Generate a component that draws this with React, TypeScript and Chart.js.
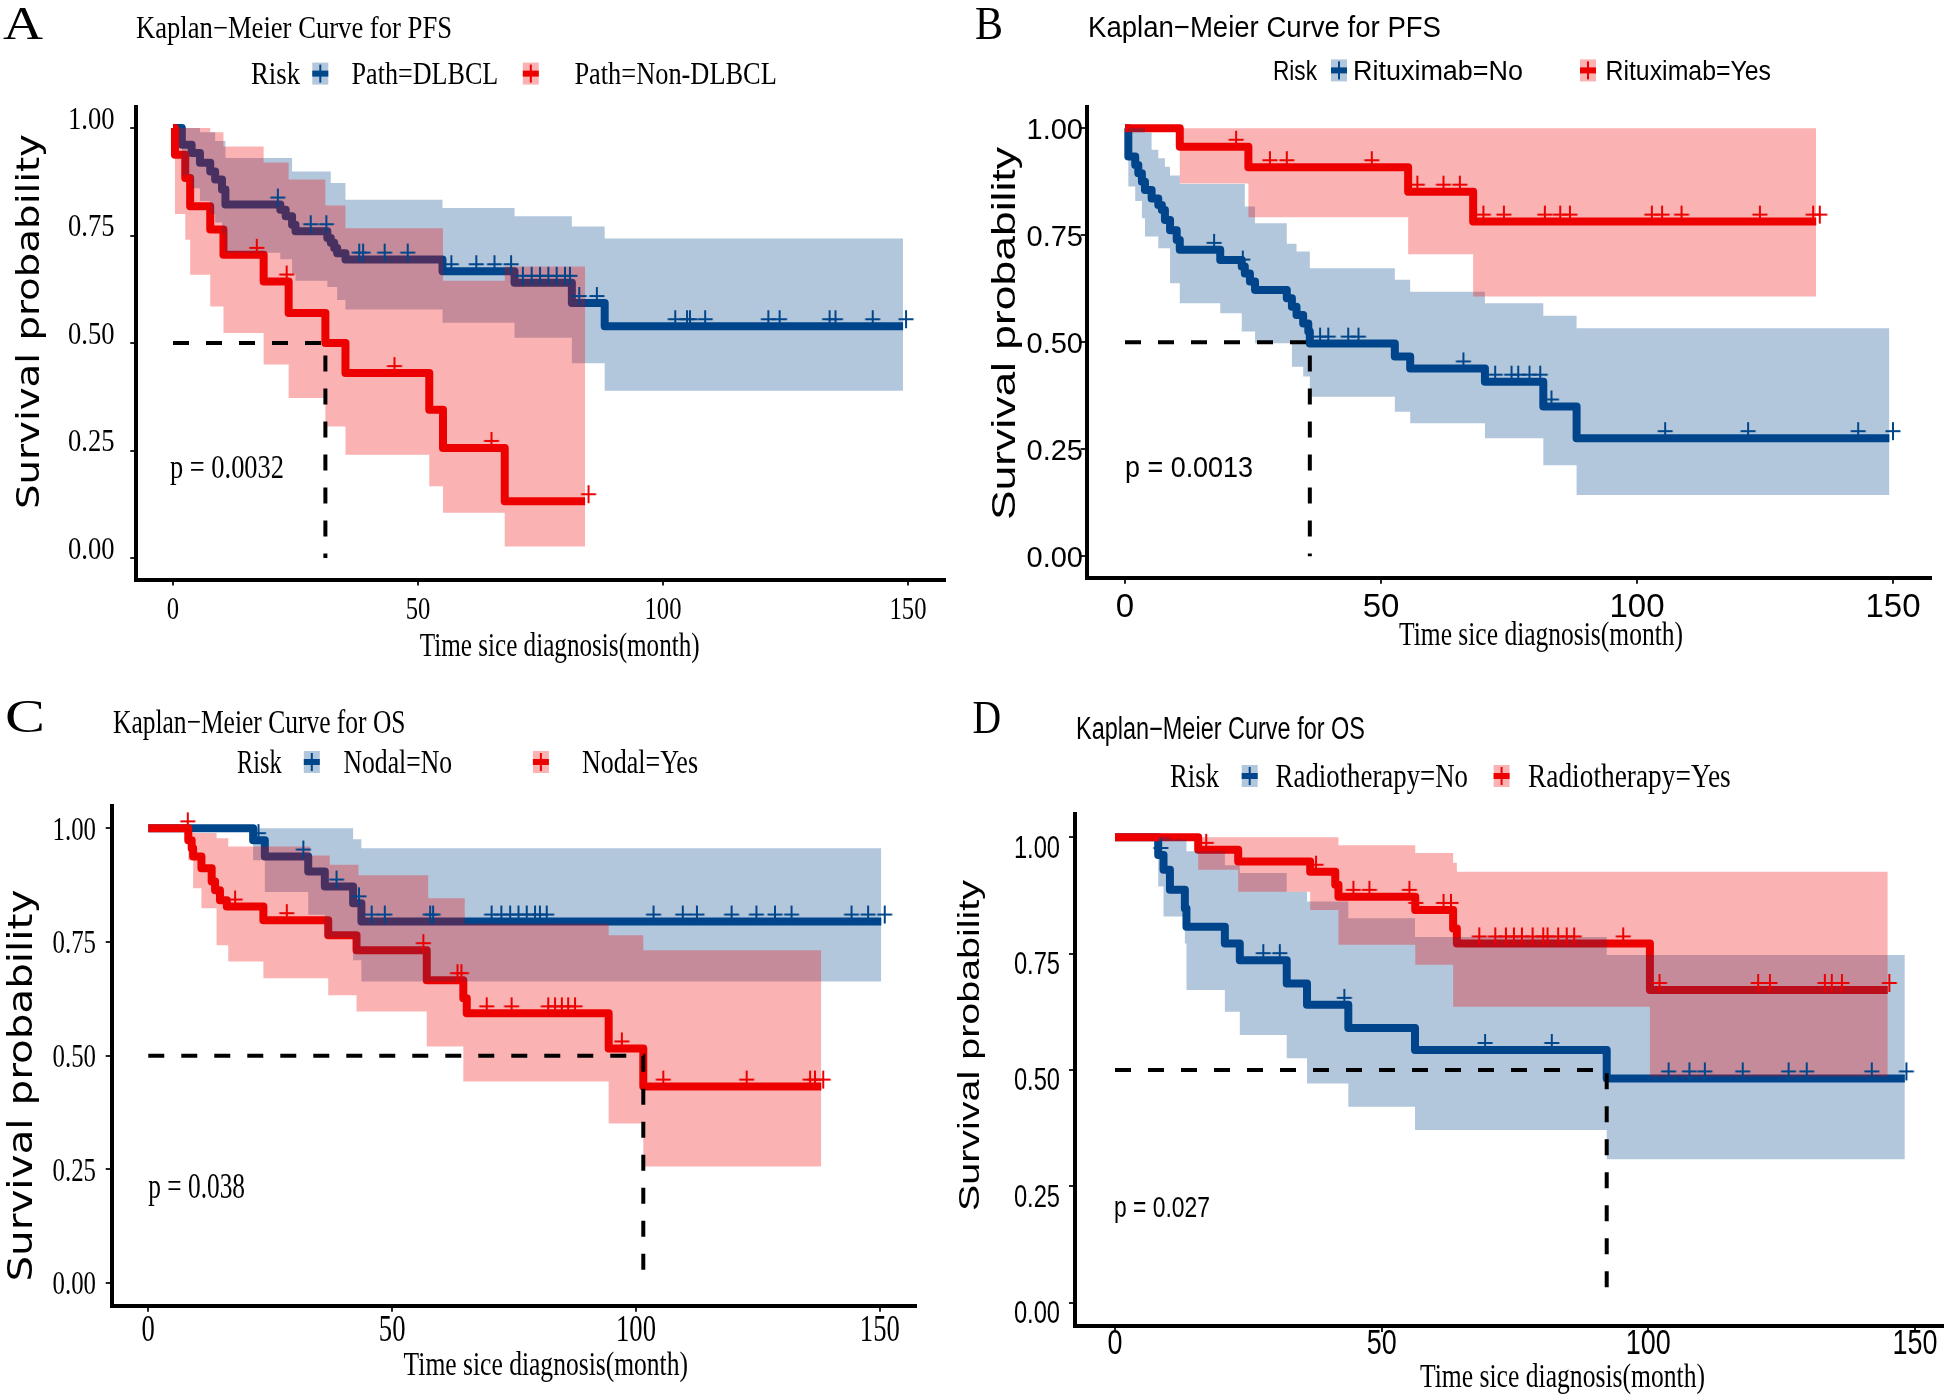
import React, { useEffect, useRef } from 'react';
import { Chart, registerables } from 'chart.js';

Chart.register(...registerables);

// ================= shared axis ticks =================
const X_TICKS = [0, 50, 100, 150];
const Y_TICKS = [0, 0.25, 0.5, 0.75, 1];
const X_TITLE = 'Time sice diagnosis(month)';
const Y_TITLE = 'Survival probability';
const LEGEND_TITLE = 'Risk';

// ================= Panel A : PFS by pathology =================
const A_TITLE = 'Kaplan\u2212Meier Curve for PFS';
const A_GROUPS = ['Path=DLBCL', 'Path=Non-DLBCL'];
const A_PVALUE = 'p = 0.0032';
const A_MEDIAN = 31.1;
const A_DLBCL_T = [0, 1.8, 3.8, 5.5, 7.6, 8.6, 10, 10.7, 21.9, 23, 24.3, 25, 31.5, 32.2, 32.9, 33.5, 35.2, 55, 69.7, 81.4, 88.1, 149];
const A_DLBCL_S = [1, 0.961, 0.942, 0.919, 0.899, 0.88, 0.857, 0.822, 0.81, 0.795, 0.775, 0.76, 0.744, 0.733, 0.721, 0.709, 0.694, 0.667, 0.64, 0.593, 0.539, 0.539];
const A_DLBCL_UP_T = [0, 5.5, 8.6, 10.7, 24.3, 32.2, 35.2, 55, 69.7, 81.4, 88.1, 149];
const A_DLBCL_UP_S = [1, 0.99, 0.97, 0.93, 0.899, 0.872, 0.833, 0.814, 0.795, 0.771, 0.743, 0.743];
const A_DLBCL_LO_T = [0, 1.8, 3.8, 5.5, 7.6, 8.6, 10, 10.7, 21.9, 24.3, 25, 31.5, 33.5, 35.2, 55, 69.7, 81.4, 88.1, 149];
const A_DLBCL_LO_S = [1, 0.89, 0.86, 0.83, 0.8, 0.78, 0.755, 0.71, 0.695, 0.66, 0.645, 0.63, 0.6, 0.578, 0.547, 0.512, 0.453, 0.389, 0.389];
const A_DLBCL_CENS = [21.4, 28.1, 31.3, 38, 38.8, 43.2, 47.9, 56.8, 61.9, 65.6, 69, 71.4, 73.2, 74.9, 76.6, 78.3, 80, 81, 82.9, 86.5, 102.5, 104.9, 105.5, 108.6, 121.5, 123.8, 134, 135.2, 142.8, 149.6];
const A_NON_T = [0, 0.4, 2.5, 3.5, 7.6, 10.3, 18.5, 23.6, 31.1, 35.2, 52.3, 55.1, 67.7, 84.1];
const A_NON_S = [1, 0.938, 0.884, 0.818, 0.764, 0.705, 0.643, 0.57, 0.5, 0.43, 0.345, 0.256, 0.132, 0.132];
const A_NON_UP_T = [0, 7.6, 10.3, 18.5, 23.6, 31.1, 35.2, 55.1, 67.7, 84.1];
const A_NON_UP_S = [1, 0.99, 0.957, 0.92, 0.88, 0.82, 0.767, 0.645, 0.678, 0.678];
const A_NON_LO_T = [0, 0.4, 2.5, 3.5, 7.6, 10.3, 18.5, 23.6, 31.1, 35.2, 52.3, 55.1, 67.7, 84.1];
const A_NON_LO_S = [1, 0.8, 0.74, 0.659, 0.585, 0.523, 0.45, 0.372, 0.306, 0.24, 0.167, 0.105, 0.027, 0.027];
const A_NON_CENS = [17.1, 23.2, 45.2, 65, 84.8];

// ================= Panel B : PFS by rituximab =================
const B_TITLE = 'Kaplan\u2212Meier Curve for PFS';
const B_GROUPS = ['Rituximab=No', 'Rituximab=Yes'];
const B_PVALUE = 'p = 0.0013';
const B_MEDIAN = 36.1;
const B_NO_T = [0, 0.65, 2, 2.6, 3.3, 3.9, 5.2, 6.5, 7.2, 7.8, 8.8, 10.1, 10.7, 18.6, 22.8, 23.4, 24.4, 25.4, 31.6, 32.6, 33.5, 34.8, 35.8, 36.1, 52.7, 55.7, 70.3, 81.7, 88.2, 149.3];
const B_NO_S = [1, 0.934, 0.914, 0.895, 0.875, 0.856, 0.836, 0.821, 0.809, 0.786, 0.762, 0.739, 0.716, 0.692, 0.677, 0.661, 0.642, 0.622, 0.603, 0.583, 0.564, 0.544, 0.525, 0.497, 0.467, 0.439, 0.408, 0.35, 0.276, 0.276];
const B_NO_UP_T = [0, 3.9, 5.2, 6.5, 7.8, 8.8, 10.7, 23.4, 25.4, 31.6, 33.5, 36.1, 52.7, 55.7, 70.3, 81.7, 88.2, 149.3];
const B_NO_UP_S = [1, 0.99, 0.95, 0.93, 0.91, 0.89, 0.87, 0.817, 0.778, 0.73, 0.712, 0.673, 0.646, 0.618, 0.591, 0.562, 0.533, 0.533];
const B_NO_LO_T = [0, 0.65, 2, 3.3, 3.9, 6.5, 8.8, 10.7, 18.6, 22.8, 25.4, 32.6, 34.8, 36.1, 52.7, 55.7, 70.3, 81.7, 88.2, 149.3];
const B_NO_LO_S = [1, 0.864, 0.83, 0.79, 0.747, 0.72, 0.638, 0.591, 0.568, 0.525, 0.498, 0.443, 0.42, 0.373, 0.338, 0.311, 0.276, 0.213, 0.143, 0.143];
const B_NO_CENS = [17.4, 23, 38.1, 39.7, 43.6, 45.6, 66.1, 72.3, 75.5, 76.8, 79, 81.1, 83.3, 105.5, 121.7, 143.2, 150];
const B_YES_T = [0, 10.7, 24.1, 55.3, 68, 135];
const B_YES_S = [1, 0.957, 0.909, 0.852, 0.782, 0.782];
const B_YES_UP_T = [0, 135];
const B_YES_UP_S = [1, 1];
const B_YES_LO_T = [0, 10.7, 24.1, 55.3, 68, 135];
const B_YES_LO_S = [1, 0.871, 0.792, 0.706, 0.607, 0.607];
const B_YES_CENS = [21.7, 28.3, 31.6, 48.2, 57.1, 62.2, 65.4, 70, 74, 82, 85, 86.9, 102.9, 104.9, 108.7, 124, 134.4, 135.7];

// ================= Panel C : OS by nodal =================
const C_TITLE = 'Kaplan\u2212Meier Curve for OS';
const C_GROUPS = ['Nodal=No', 'Nodal=Yes'];
const C_PVALUE = 'p = 0.038';
const C_MEDIAN = 101.5;
const C_NO_T = [0, 21.5, 23.9, 32.8, 36.2, 42, 43.7, 150.3];
const C_NO_S = [1, 0.974, 0.938, 0.905, 0.872, 0.835, 0.795, 0.795];
const C_NO_UP_T = [0, 42, 43.7, 150.3];
const C_NO_UP_S = [1, 0.976, 0.956, 0.956];
const C_NO_LO_T = [0, 21.5, 23.9, 32.8, 36.2, 42, 43.7, 150.3];
const C_NO_LO_S = [1, 0.93, 0.86, 0.81, 0.76, 0.71, 0.663, 0.663];
const C_NO_CENS = [22.6, 31.8, 38.6, 43.2, 45.8, 48.5, 57.8, 58.4, 70.4, 72.4, 74.2, 75.9, 77.6, 79.3, 80.3, 81.7, 103.6, 109.6, 112.5, 119.6, 124.7, 128.5, 131.9, 144.2, 147.6, 151];
const C_YES_T = [0, 8.2, 8.9, 9.2, 10.9, 13, 13.7, 14.7, 16.1, 23.6, 36.9, 42.7, 57.1, 64.6, 65.3, 94.4, 101.5, 138];
const C_YES_S = [1, 0.974, 0.956, 0.938, 0.912, 0.883, 0.864, 0.842, 0.828, 0.798, 0.765, 0.732, 0.666, 0.626, 0.593, 0.516, 0.432, 0.432];
const C_YES_UP_T = [0, 8.2, 14, 16.4, 33.2, 37.2, 43.1, 57.4, 64.9, 94.4, 101.5, 138];
const C_YES_UP_S = [1, 0.99, 0.978, 0.96, 0.94, 0.92, 0.897, 0.846, 0.79, 0.765, 0.732, 0.732];
const C_YES_LO_T = [0, 8.2, 9.2, 10.9, 14, 16.4, 23.6, 36.9, 42.7, 57.1, 64.6, 94.4, 101.5, 138];
const C_YES_LO_S = [1, 0.93, 0.868, 0.824, 0.743, 0.707, 0.67, 0.633, 0.597, 0.52, 0.443, 0.351, 0.256, 0.256];
const C_YES_CENS = [8.1, 17.8, 28.4, 56.4, 63.4, 64.2, 69.4, 74.5, 82, 83.4, 84.8, 86.1, 87.5, 97.1, 105.6, 122.7, 135.7, 136.7, 138.4];

// ================= Panel D : OS by radiotherapy =================
const D_TITLE = 'Kaplan\u2212Meier Curve for OS';
const D_GROUPS = ['Radiotherapy=No', 'Radiotherapy=Yes'];
const D_PVALUE = 'p = 0.027';
const D_MEDIAN = 92.2;
const D_NO_T = [0, 8.1, 9.1, 10.3, 13.1, 13.4, 20.6, 23.4, 32.2, 36, 43.75, 56.25, 92.2, 148.1];
const D_NO_S = [1, 0.962, 0.93, 0.887, 0.847, 0.808, 0.772, 0.736, 0.686, 0.64, 0.59, 0.543, 0.482, 0.482];
const D_NO_UP_T = [0, 10.3, 13.4, 20.6, 23.4, 32.2, 36, 43.75, 56.25, 92.2, 148.1];
const D_NO_UP_S = [1, 0.995, 0.97, 0.94, 0.923, 0.883, 0.862, 0.826, 0.786, 0.747, 0.747];
const D_NO_LO_T = [0, 8.1, 9.1, 13.1, 13.4, 20.6, 23.4, 32.2, 36, 43.75, 56.25, 92.2, 148.1];
const D_NO_LO_S = [1, 0.894, 0.83, 0.772, 0.672, 0.625, 0.575, 0.525, 0.471, 0.421, 0.371, 0.308, 0.308];
const D_NO_CENS = [8.6, 27.8, 30.9, 43, 69.4, 81.9, 103.8, 107.7, 110.6, 117.7, 126.3, 129.7, 141.9, 148.4];
const D_YES_T = [0, 15.6, 23.1, 36.6, 41.3, 41.9, 56.3, 63.4, 64.1, 100.3, 144.9];
const D_YES_S = [1, 0.973, 0.948, 0.926, 0.898, 0.872, 0.844, 0.804, 0.772, 0.672, 0.672];
const D_YES_UP_T = [0, 41.9, 56.3, 63.4, 64.1, 144.9];
const D_YES_UP_S = [1, 0.983, 0.966, 0.945, 0.926, 0.926];
const D_YES_LO_T = [0, 15.6, 23.1, 36.6, 41.9, 56.3, 63.4, 100.3, 144.9];
const D_YES_LO_S = [1, 0.93, 0.883, 0.844, 0.769, 0.726, 0.636, 0.486, 0.486];
const D_YES_CENS = [17.1, 37.7, 44.7, 47.7, 55.2, 56.4, 61.6, 63, 68.3, 71.3, 73.3, 74.8, 76.3, 78.3, 80.3, 81.1, 83.1, 84.7, 86.1, 95.3, 102.1, 120.6, 122.8, 133.1, 134.4, 136.3, 145.2];

// ================= styles =================
const BLUE = '#00468B';
const RED = '#ED0000';
const BLUE_BAND = 'rgba(0,70,139,0.3)';
const RED_BAND = 'rgba(237,0,0,0.3)';
const SERIF = '"Liberation Serif", "Times New Roman", serif';
const SANS = '"Liberation Sans", Arial, sans-serif';
const DEJAVU = '"DejaVu Sans", sans-serif';

type Series = { t: number[]; s: number[]; ut: number[]; us: number[]; lt: number[]; ls: number[]; cens: number[] };
type TextItem = { text: string; x: number; y: number; size: number; family: string; width?: number; sx?: number; align?: CanvasTextAlign; baseline?: CanvasTextBaseline; rotate?: number };
type TickStyle = { family: string; size: number; sx: number; cap: number; gap?: number; off?: number; base?: number };
type Panel = {
  id: string;
  canvas: { x: number; y: number; w: number; h: number };
  area: { l: number; t: number; r: number; b: number };
  xMax: number;
  blue: Series;
  red: Series;
  median: number;
  texts: TextItem[];
  icons: { cx: number; cy: number; band: string; line: string }[];
  yTick: TickStyle;
  xTick: TickStyle;
};

function pts(t: number[], s: number[]) {
  return t.map((x, i) => ({ x, y: s[i] }));
}
function survAt(t: number[], s: number[], time: number) {
  let v = s[0];
  for (let i = 0; i < t.length; i++) {
    if (t[i] <= time) v = s[i];
    else break;
  }
  return v;
}

function makeCross(color: string) {
  const c = document.createElement('canvas');
  c.width = 20;
  c.height = 40;
  const g = c.getContext('2d')!;
  g.strokeStyle = color;
  g.lineWidth = 2;
  g.beginPath();
  g.moveTo(2.5, 13);
  g.lineTo(17.5, 13);
  g.moveTo(10, 4);
  g.lineTo(10, 22);
  g.stroke();
  return c;
}

function drawText(ctx: CanvasRenderingContext2D, t: TextItem) {
  ctx.save();
  ctx.font = `${t.size}px ${t.family}`;
  ctx.fillStyle = '#000';
  ctx.textAlign = t.align || 'left';
  ctx.textBaseline = t.baseline || 'alphabetic';
  const natural = ctx.measureText(t.text).width || 1;
  const sx = t.width ? t.width / natural : t.sx || 1;
  ctx.translate(t.x, t.y);
  if (t.rotate) ctx.rotate(t.rotate);
  ctx.scale(sx, 1);
  ctx.fillText(t.text, 0, 0);
  ctx.restore();
}

function legendTexts(groups: string[], fam: string, size: number, y: number, xs: number[], ws: number[]): TextItem[] {
  return [
    { text: LEGEND_TITLE, x: xs[0], y, size, family: fam, width: ws[0] },
    { text: groups[0], x: xs[1], y, size, family: fam, width: ws[1] },
    { text: groups[1], x: xs[2], y, size, family: fam, width: ws[2] },
  ];
}

const PANELS: Panel[] = [
  {
    id: 'A',
    canvas: { x: 0, y: 0, w: 950, h: 690 },
    area: { l: 136.25, t: 106.5, r: 944.75, b: 579.5 },
    xMax: 157.5,
    blue: { t: A_DLBCL_T, s: A_DLBCL_S, ut: A_DLBCL_UP_T, us: A_DLBCL_UP_S, lt: A_DLBCL_LO_T, ls: A_DLBCL_LO_S, cens: A_DLBCL_CENS },
    red: { t: A_NON_T, s: A_NON_S, ut: A_NON_UP_T, us: A_NON_UP_S, lt: A_NON_LO_T, ls: A_NON_LO_S, cens: A_NON_CENS },
    median: A_MEDIAN,
    texts: [
      { text: 'A', x: 3, y: 39, size: 46, family: SERIF, width: 40 },
      { text: A_TITLE, x: 136, y: 38.1, size: 31, family: SERIF, width: 316 },
      ...legendTexts(A_GROUPS, SERIF, 32, 84.4, [251, 351.6, 574.4], [49, 146.7, 202.4]),
      { text: A_PVALUE, x: 170, y: 478.3, size: 33, family: SERIF, width: 114 },
      { text: X_TITLE, x: 419.7, y: 656, size: 33, family: SERIF, width: 280 },
      { text: Y_TITLE, x: 31, y: 321.5, size: 32, family: DEJAVU, width: 375, align: 'center', baseline: 'middle', rotate: -Math.PI / 2 },
    ],
    icons: [
      { cx: 320.3, cy: 73.6, band: BLUE_BAND, line: BLUE },
      { cx: 530.8, cy: 73.6, band: RED_BAND, line: RED },
    ],
    yTick: { family: SERIF, size: 32, sx: 0.83, cap: 0.676, gap: 21.75, off: -10 },
    xTick: { family: SERIF, size: 32, sx: 0.77, cap: 0.676, base: 39.5 },
  },
  {
    id: 'B',
    canvas: { x: 950, y: 0, w: 994, h: 690 },
    area: { l: 1086.6, t: 106.9, r: 1931.4, b: 577.7 },
    xMax: 157.5,
    blue: { t: B_NO_T, s: B_NO_S, ut: B_NO_UP_T, us: B_NO_UP_S, lt: B_NO_LO_T, ls: B_NO_LO_S, cens: B_NO_CENS },
    red: { t: B_YES_T, s: B_YES_S, ut: B_YES_UP_T, us: B_YES_UP_S, lt: B_YES_LO_T, ls: B_YES_LO_S, cens: B_YES_CENS },
    median: B_MEDIAN,
    texts: [
      { text: 'B', x: 975, y: 39, size: 46, family: SERIF, width: 28 },
      { text: B_TITLE, x: 1088, y: 36.8, size: 30, family: SANS, width: 353 },
      ...legendTexts(B_GROUPS, SANS, 27, 80.1, [1273, 1353, 1605.5], [44, 170, 165.5]),
      { text: B_PVALUE, x: 1125, y: 476.7, size: 30, family: SANS, width: 128 },
      { text: X_TITLE, x: 1399, y: 645, size: 33, family: SERIF, width: 284 },
      { text: Y_TITLE, x: 1006, y: 333.6, size: 33, family: SANS, width: 373, align: 'center', baseline: 'middle', rotate: -Math.PI / 2 },
    ],
    icons: [
      { cx: 1339, cy: 70.4, band: BLUE_BAND, line: BLUE },
      { cx: 1588, cy: 70.4, band: RED_BAND, line: RED },
    ],
    yTick: { family: SANS, size: 29, sx: 1, cap: 0.716, gap: 3.6, off: 0 },
    xTick: { family: SANS, size: 33, sx: 1, cap: 0.716, base: 39.5 },
  },
  {
    id: 'C',
    canvas: { x: 0, y: 690, w: 950, h: 709 },
    area: { l: 111.7, t: 805.6, r: 916.4, b: 1305.7 },
    xMax: 157.5,
    blue: { t: C_NO_T, s: C_NO_S, ut: C_NO_UP_T, us: C_NO_UP_S, lt: C_NO_LO_T, ls: C_NO_LO_S, cens: C_NO_CENS },
    red: { t: C_YES_T, s: C_YES_S, ut: C_YES_UP_T, us: C_YES_UP_S, lt: C_YES_LO_T, ls: C_YES_LO_S, cens: C_YES_CENS },
    median: C_MEDIAN,
    texts: [
      { text: 'C', x: 5, y: 731.7, size: 46, family: SERIF, width: 40 },
      { text: C_TITLE, x: 113, y: 733, size: 34, family: SERIF, width: 292.5 },
      ...legendTexts(C_GROUPS, SERIF, 33, 773, [237, 343.5, 582], [44.6, 108.5, 116]),
      { text: C_PVALUE, x: 148.3, y: 1198.3, size: 35, family: SERIF, width: 96.7 },
      { text: X_TITLE, x: 403.6, y: 1375, size: 34, family: SERIF, width: 284.4 },
      { text: Y_TITLE, x: 23, y: 1085.6, size: 34, family: DEJAVU, width: 392, align: 'center', baseline: 'middle', rotate: -Math.PI / 2 },
    ],
    icons: [
      { cx: 311.8, cy: 762, band: BLUE_BAND, line: BLUE },
      { cx: 540.9, cy: 762, band: RED_BAND, line: RED },
    ],
    yTick: { family: SERIF, size: 34, sx: 0.73, cap: 0.676, gap: 15.7, off: 0 },
    xTick: { family: SERIF, size: 37, sx: 0.72, cap: 0.676, base: 35 },
  },
  {
    id: 'D',
    canvas: { x: 950, y: 690, w: 994, h: 709 },
    area: { l: 1075, t: 814, r: 1942.7, b: 1326 },
    xMax: 155.2,
    blue: { t: D_NO_T, s: D_NO_S, ut: D_NO_UP_T, us: D_NO_UP_S, lt: D_NO_LO_T, ls: D_NO_LO_S, cens: D_NO_CENS },
    red: { t: D_YES_T, s: D_YES_S, ut: D_YES_UP_T, us: D_YES_UP_S, lt: D_YES_LO_T, ls: D_YES_LO_S, cens: D_YES_CENS },
    median: D_MEDIAN,
    texts: [
      { text: 'D', x: 972.4, y: 733, size: 46, family: SERIF, width: 28.6 },
      { text: D_TITLE, x: 1076, y: 739, size: 31, family: SANS, width: 289 },
      ...legendTexts(D_GROUPS, SERIF, 33, 787.4, [1170, 1275.6, 1528], [49, 192.4, 202.7]),
      { text: D_PVALUE, x: 1114, y: 1217.3, size: 29, family: SANS, width: 96 },
      { text: X_TITLE, x: 1420, y: 1387, size: 34, family: SERIF, width: 285 },
      { text: Y_TITLE, x: 971, y: 1045.5, size: 30, family: SANS, width: 331, align: 'center', baseline: 'middle', rotate: -Math.PI / 2 },
    ],
    icons: [
      { cx: 1249.7, cy: 776, band: BLUE_BAND, line: BLUE },
      { cx: 1501.6, cy: 776, band: RED_BAND, line: RED },
    ],
    yTick: { family: SANS, size: 32, sx: 0.74, cap: 0.716, gap: 15, off: 9 },
    xTick: { family: SANS, size: 35, sx: 0.77, cap: 0.716, base: 27.6 },
  },
];

function buildConfig(p: Panel): any {
  const { canvas, area } = p;
  const crossRed = makeCross(RED);
  const crossBlue = makeCross(BLUE);
  const hidden = 'rgba(0,0,0,0)';
  const lineDs = (s: Series, color: string) => ({
    type: 'line',
    data: pts(s.t, s.s),
    stepped: 'before',
    borderColor: color,
    borderWidth: 8,
    borderJoinStyle: 'round',
    pointRadius: 0,
    fill: false,
    order: 3,
  });
  const bandDs = (t: number[], s: number[], fill: any, color: string) => ({
    type: 'line',
    data: pts(t, s),
    stepped: 'before',
    borderColor: hidden,
    borderWidth: 0,
    pointRadius: 0,
    fill,
    backgroundColor: color,
    order: 2,
  });
  const censDs = (s: Series, img: HTMLCanvasElement) => ({
    type: 'line',
    data: s.cens.map((c) => ({ x: c, y: survAt(s.t, s.s, c) })),
    showLine: false,
    pointStyle: img,
    pointRadius: 8,
    order: 1,
  });

  const textPlugin = {
    id: 'panelText' + p.id,
    afterDraw(chart: any) {
      const ctx: CanvasRenderingContext2D = chart.ctx;
      const xs = chart.scales.x;
      const ys = chart.scales.y;
      const ca = chart.chartArea;
      const yt = p.yTick;
      for (const v of Y_TICKS) {
        const py = ys.getPixelForValue(v) + (yt.off || 0);
        drawText(ctx, { text: v.toFixed(2), x: ca.left - (yt.gap || 0), y: py + (yt.size * yt.cap) / 2, size: yt.size, family: yt.family, sx: yt.sx, align: 'right' });
      }
      const xt = p.xTick;
      for (const v of X_TICKS) {
        const px = xs.getPixelForValue(v);
        drawText(ctx, { text: String(v), x: px, y: ca.bottom + (xt.base || 0), size: xt.size, family: xt.family, sx: xt.sx, align: 'center' });
      }
      ctx.save();
      ctx.translate(-canvas.x, -canvas.y);
      for (const t of p.texts) drawText(ctx, t);
      for (const ic of p.icons) {
        ctx.fillStyle = ic.band;
        ctx.fillRect(ic.cx - 8, ic.cy - 11, 16, 22);
        ctx.fillStyle = ic.line;
        ctx.fillRect(ic.cx - 8, ic.cy - 3, 16, 6);
        ctx.fillRect(ic.cx - 1, ic.cy - 9, 2, 18);
      }
      ctx.restore();
    },
  };

  return {
    type: 'line',
    data: {
      datasets: [
        lineDs(p.red, RED),
        lineDs(p.blue, BLUE),
        bandDs(p.red.ut, p.red.us, false, RED_BAND),
        bandDs(p.red.lt, p.red.ls, '-1', RED_BAND),
        bandDs(p.blue.ut, p.blue.us, false, BLUE_BAND),
        bandDs(p.blue.lt, p.blue.ls, '-1', BLUE_BAND),
        censDs(p.red, crossRed),
        censDs(p.blue, crossBlue),
        {
          type: 'line',
          data: [
            { x: 0, y: 0.5 },
            { x: p.median, y: 0.5 },
            { x: p.median, y: 0 },
          ],
          borderColor: '#000',
          borderWidth: 4,
          borderDash: [16, 17],
          pointRadius: 0,
          fill: false,
          order: 0,
        },
      ],
    },
    options: {
      animation: false,
      responsive: false,
      devicePixelRatio: 1,
      events: [],
      layout: {
        autoPadding: false,
        padding: { left: 0, top: area.t - canvas.y, right: canvas.x + canvas.w - area.r, bottom: 0 },
      },
      plugins: { legend: { display: false }, tooltip: { enabled: false }, title: { display: false } },
      scales: {
        x: {
          type: 'linear',
          min: -7.5,
          max: p.xMax,
          afterBuildTicks: (s: any) => {
            s.ticks = X_TICKS.map((v) => ({ value: v }));
          },
          afterFit: (s: any) => {
            s.height = canvas.y + canvas.h - area.b;
          },
          ticks: { display: false },
          grid: { drawOnChartArea: false, drawTicks: true, tickLength: 6, color: '#222', lineWidth: 2 },
          border: { display: true, color: '#000', width: 4 },
        },
        y: {
          type: 'linear',
          min: -0.05,
          max: 1.05,
          afterBuildTicks: (s: any) => {
            s.ticks = Y_TICKS.map((v) => ({ value: v }));
          },
          afterFit: (s: any) => {
            s.width = area.l - canvas.x;
          },
          ticks: { display: false },
          grid: { drawOnChartArea: false, drawTicks: true, tickLength: 6, color: '#222', lineWidth: 2 },
          border: { display: true, color: '#000', width: 4 },
        },
      },
    },
    plugins: [textPlugin],
  };
}

function PanelChart({ panel }: { panel: Panel }) {
  const ref = useRef<HTMLCanvasElement>(null);
  useEffect(() => {
    if (!ref.current) return;
    const chart = new Chart(ref.current, buildConfig(panel));
    return () => chart.destroy();
  }, [panel]);
  const c = panel.canvas;
  return (
    <canvas
      ref={ref}
      width={c.w}
      height={c.h}
      style={{ position: 'absolute', left: c.x, top: c.y, width: c.w, height: c.h, display: 'block' }}
    />
  );
}

export default function App() {
  return (
    <div style={{ position: 'absolute', left: 0, top: 0, width: 1944, height: 1399, background: '#fff', overflow: 'hidden' }}>
      {PANELS.map((p) => (
        <PanelChart key={p.id} panel={p} />
      ))}
    </div>
  );
}
